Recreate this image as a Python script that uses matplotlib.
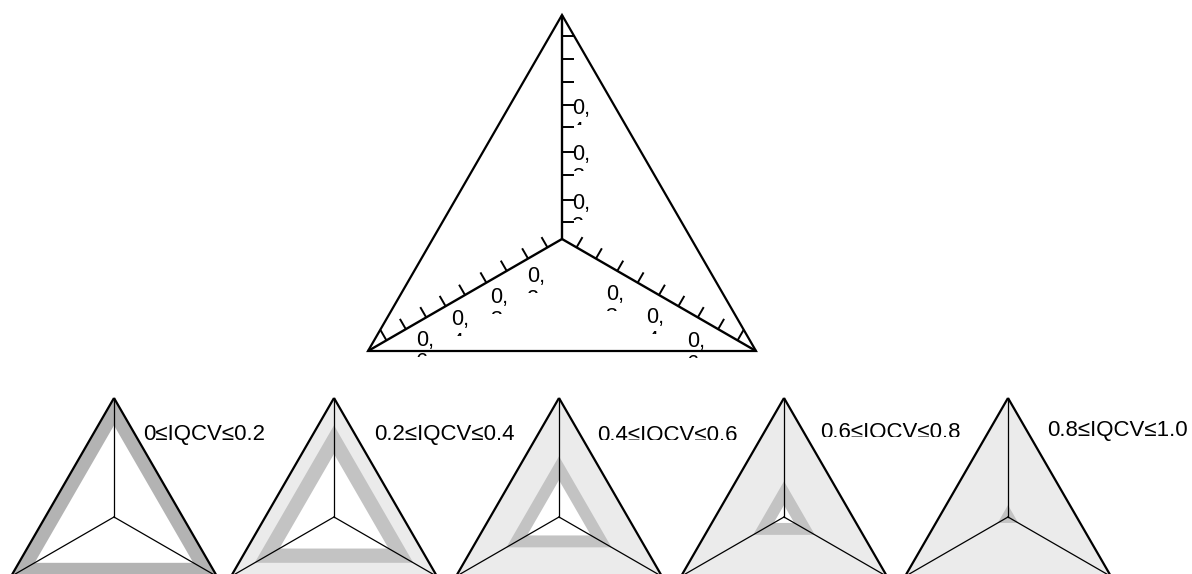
import numpy as np
import matplotlib
matplotlib.use("Agg")
import matplotlib.pyplot as plt
from matplotlib.patches import Polygon, Rectangle
from matplotlib.transforms import IdentityTransform

# --- data ---
axis_angles = [90, 210, 330]          # top, bottom-left, bottom-right spokes
tick_values = [0.075, 0.175, 0.285, 0.39, 0.50, 0.60, 0.70, 0.805, 0.905]

# tick labels that survive (only "0," and the top of the next digit show)
vert_label_r = [0.17, 0.39, 0.595]
vert_label_digits = ["2", "3", "4"]
left_label_r = [0.19, 0.38, 0.58, 0.76]
left_label_digits = ["2", "3", "4", "6"]
right_label_r = [0.31, 0.52, 0.73]
right_label_digits = ["3", "4", "6"]

panel_labels = ["0≤IQCV≤0.2", "0.2≤IQCV≤0.4", "0.4≤IQCV≤0.6",
                "0.6≤IQCV≤0.8", "0.8≤IQCV≤1.0"]
band_low = [0.77, 0.53, 0.31, 0.10, 0.0]
band_high = [1.0, 0.77, 0.51, 0.30, 0.10]

# --- layout ---
W, H = 1192, 574
fig = plt.figure(figsize=(W / 100, H / 100), dpi=100)
fig.patch.set_facecolor("white")

LABEL_FONT = ["Liberation Sans", "DejaVu Sans"]
TICK_FONT = ["Liberation Sans", "DejaVu Sans"]


def radar_ax(cx, cy, R, pad=1.15):
    ax = fig.add_axes([(cx - pad * R) / W, (H - cy - pad * R) / H,
                       2 * pad * R / W, 2 * pad * R / H])
    ax.set_xlim(-pad, pad)
    ax.set_ylim(-pad, pad)
    ax.axis("off")
    return ax


def tri(r):
    a = np.radians(axis_angles)
    return np.column_stack([r * np.cos(a), r * np.sin(a)])


# ---------- big radar ----------
ax = radar_ax(562, 239, 224)
ax.add_patch(Polygon(tri(1.0), closed=True, fill=False, ec="black",
                     lw=1.6, joinstyle="miter"))
tick_dirs = [(1, 0), (-0.5, 0.866), (0.5, 0.866)]
tick_len = 0.053
for ang, nd in zip(axis_angles, tick_dirs):
    u = np.array([np.cos(np.radians(ang)), np.sin(np.radians(ang))])
    ax.plot([0, u[0]], [0, u[1]], color="black", lw=1.7, solid_capstyle="butt")
    for t in tick_values:
        p = t * u
        ax.plot([p[0], p[0] + tick_len * nd[0]], [p[1], p[1] + tick_len * nd[1]],
                color="black", lw=1.4, solid_capstyle="butt")


def tick_label(r, ang, perp_px, digit):
    u = np.array([np.cos(np.radians(ang)), np.sin(np.radians(ang))])
    px, py = ax.transData.transform(r * u)
    cx0, cy0 = px + perp_px[0], py - perp_px[1]   # centre of the "0"
    x0, y0 = cx0 - 6.0, cy0 + 8.0
    txt = fig.text(x0 / W, y0 / H, "0,\n" + digit, ha="left", va="top",
                   fontsize=15.5, family=TICK_FONT, linespacing=1.12)
    clip = Rectangle((x0 - 4, cy0 - 19), 40, 40, transform=IdentityTransform())
    txt.set_clip_path(clip)
    txt.set_clip_on(True)


for r, d in zip(vert_label_r, vert_label_digits):
    tick_label(r, 90, (16, 0), d)
for r, d in zip(left_label_r, left_label_digits):
    tick_label(r, 210, (7.75, 13.4), d)
for r, d in zip(right_label_r, right_label_digits):
    tick_label(r, 330, (-10.5, 18.2), d)

# ---------- small radars ----------
centers = [114, 334, 559, 784, 1008]
label_x = [143, 374, 597, 820, 1047]
label_base = [440, 440, 441, 438, 436]
label_clip = [None, None, 439.5, 436.5, None]
light = "#ebebeb"

for i, cx in enumerate(centers):
    sax = radar_ax(cx, 517, 119)
    band_col = "#b3b3b3" if i == 0 else "#c3c3c3"
    if band_high[i] < 1.0:
        sax.add_patch(Polygon(tri(1.0), closed=True, fc=light, ec="none"))
    sax.add_patch(Polygon(tri(band_high[i]), closed=True, fc=band_col, ec="none"))
    if band_low[i] > 0:
        sax.add_patch(Polygon(tri(band_low[i]), closed=True, fc="white", ec="none"))
    for ang in axis_angles:
        a = np.radians(ang)
        sax.plot([0, np.cos(a)], [0, np.sin(a)], color="black", lw=0.9)
    sax.add_patch(Polygon(tri(1.0), closed=True, fill=False, ec="black",
                          lw=1.6, joinstyle="miter"))

    txt = fig.text(label_x[i] / W, (H - label_base[i]) / H, panel_labels[i],
                   ha="left", va="baseline", fontsize=16, family=LABEL_FONT)
    if label_clip[i] is not None:
        clip = Rectangle((0, H - label_clip[i]), W, label_clip[i],
                         transform=IdentityTransform())
        txt.set_clip_path(clip)
        txt.set_clip_on(True)

fig.savefig("out.png", dpi=100)
